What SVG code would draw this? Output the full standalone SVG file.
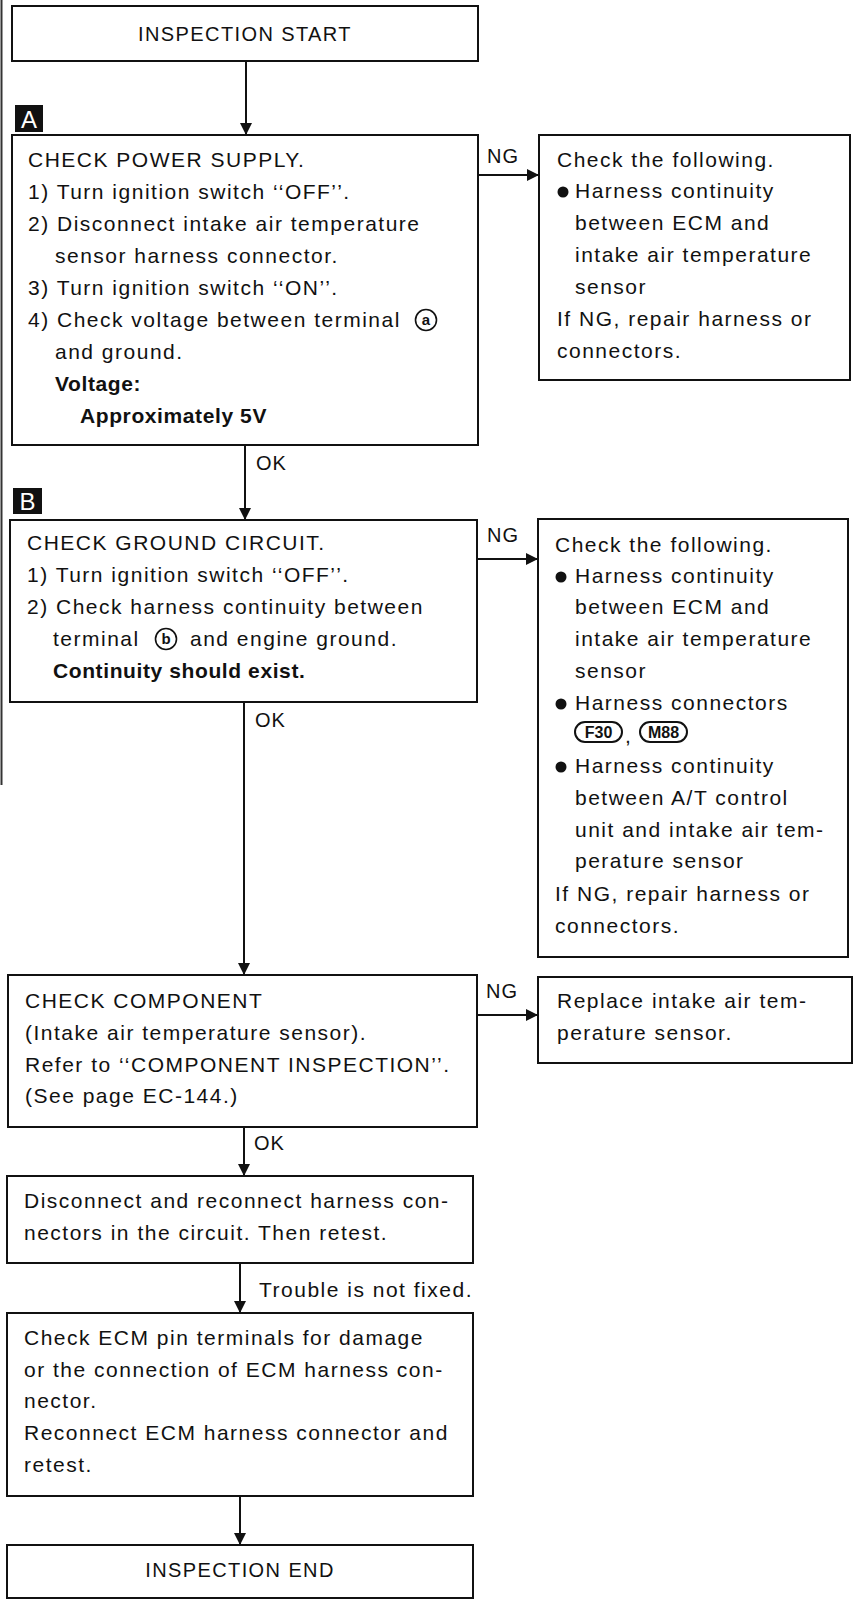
<svg xmlns="http://www.w3.org/2000/svg" width="855" height="1600" viewBox="0 0 855 1600">
<defs>
<style>
.box{fill:#fff;stroke:#111;stroke-width:2}
.t{font-family:"Liberation Sans",Arial,sans-serif;font-size:21px;letter-spacing:1.5px;fill:#111}
.b{font-family:"Liberation Sans",Arial,sans-serif;font-size:21px;font-weight:bold;letter-spacing:0.6px;fill:#111}
.h{font-family:"Liberation Sans",Arial,sans-serif;font-size:20px;letter-spacing:1.4px;fill:#111;text-anchor:middle}
.lbl{font-family:"Liberation Sans",Arial,sans-serif;font-size:20px;letter-spacing:1px;fill:#111}
.tag{font-family:"Liberation Sans",Arial,sans-serif;font-size:24px;fill:#fff;text-anchor:middle}
.pill{fill:#fff;stroke:#111;stroke-width:2}
.pt{font-family:"Liberation Sans Narrow","Liberation Sans",Arial,sans-serif;font-size:16px;font-weight:bold;fill:#111;text-anchor:middle}
.circ{fill:#fff;stroke:#111;stroke-width:1.6}
.ct{font-family:"Liberation Sans",Arial,sans-serif;font-size:15px;font-weight:bold;fill:#111;text-anchor:middle}
.ln{stroke:#111;stroke-width:2;fill:none}
</style>
<marker id="ah" viewBox="0 0 12 12" refX="12" refY="6" markerWidth="12" markerHeight="12" markerUnits="userSpaceOnUse" orient="auto">
<path d="M0,0 L12,6 L0,12 z" fill="#111"/>
</marker>
</defs>

<line x1="1.5" y1="0" x2="1.5" y2="785" stroke="#333" stroke-width="2"/>

<g id="connectors">
<line class="ln" x1="246" y1="61" x2="246" y2="135" marker-end="url(#ah)"/>
<line class="ln" x1="478" y1="175" x2="539" y2="175" marker-end="url(#ah)"/>
<line class="ln" x1="245" y1="445" x2="245" y2="520" marker-end="url(#ah)"/>
<line class="ln" x1="477" y1="559" x2="538" y2="559" marker-end="url(#ah)"/>
<line class="ln" x1="244" y1="702" x2="244" y2="975" marker-end="url(#ah)"/>
<line class="ln" x1="477" y1="1015" x2="538" y2="1015" marker-end="url(#ah)"/>
<line class="ln" x1="244" y1="1127" x2="244" y2="1176" marker-end="url(#ah)"/>
<line class="ln" x1="240" y1="1263" x2="240" y2="1313" marker-end="url(#ah)"/>
<line class="ln" x1="240" y1="1496" x2="240" y2="1545" marker-end="url(#ah)"/>
<text class="lbl" x="487" y="163">NG</text>
<text class="lbl" x="256" y="470">OK</text>
<text class="lbl" x="487" y="542">NG</text>
<text class="lbl" x="255" y="727">OK</text>
<text class="lbl" x="486" y="998">NG</text>
<text class="lbl" x="254" y="1150">OK</text>
<text class="t" x="259" y="1297">Trouble is not fixed.</text>
</g>

<g id="start">
<rect class="box" x="12" y="6" width="466" height="55"/>
<text class="h" x="245" y="41">INSPECTION START</text>
</g>

<g id="checkA">
<rect x="15" y="105" width="28" height="27" fill="#111"/>
<text class="tag" x="29" y="128">A</text>
<rect class="box" x="12" y="135" width="466" height="310"/>
<text class="t" x="28" y="167">CHECK POWER SUPPLY.</text>
<text class="t" x="28" y="199">1) Turn ignition switch ‘‘OFF’’.</text>
<text class="t" x="28" y="231">2) Disconnect intake air temperature</text>
<text class="t" x="55" y="263">sensor harness connector.</text>
<text class="t" x="28" y="295">3) Turn ignition switch ‘‘ON’’.</text>
<text class="t" x="28" y="327">4) Check voltage between terminal</text>
<circle class="circ" cx="426" cy="320" r="10.5"/>
<text class="ct" x="426" y="325">a</text>
<text class="t" x="55" y="359">and ground.</text>
<text class="b" x="55" y="391">Voltage:</text>
<text class="b" x="80" y="423">Approximately 5V</text>
</g>

<g id="ngA">
<rect class="box" x="539" y="135" width="311" height="245"/>
<text class="t" x="557" y="167">Check the following.</text>
<circle cx="563" cy="192" r="5.5" fill="#111"/>
<text class="t" x="575" y="198">Harness continuity</text>
<text class="t" x="575" y="230">between ECM and</text>
<text class="t" x="575" y="262">intake air temperature</text>
<text class="t" x="575" y="294">sensor</text>
<text class="t" x="557" y="326">If NG, repair harness or</text>
<text class="t" x="557" y="358">connectors.</text>
</g>

<g id="checkB">
<rect x="13" y="488" width="29" height="26" fill="#111"/>
<text class="tag" x="27.5" y="510">B</text>
<rect class="box" x="10" y="520" width="467" height="182"/>
<text class="t" x="27" y="550">CHECK GROUND CIRCUIT.</text>
<text class="t" x="27" y="582">1) Turn ignition switch ‘‘OFF’’.</text>
<text class="t" x="27" y="614">2) Check harness continuity between</text>
<text class="t" x="53" y="646">terminal</text>
<circle class="circ" cx="166" cy="639" r="10.5"/>
<text class="ct" x="166" y="644">b</text>
<text class="t" x="190" y="646">and engine ground.</text>
<text class="b" x="53" y="678">Continuity should exist.</text>
</g>

<g id="ngB">
<rect class="box" x="538" y="519" width="310" height="438"/>
<text class="t" x="555" y="552">Check the following.</text>
<circle cx="561" cy="577" r="5.5" fill="#111"/>
<text class="t" x="575" y="583">Harness continuity</text>
<text class="t" x="575" y="614">between ECM and</text>
<text class="t" x="575" y="646">intake air temperature</text>
<text class="t" x="575" y="678">sensor</text>
<circle cx="561" cy="704" r="5.5" fill="#111"/>
<text class="t" x="575" y="710">Harness connectors</text>
<rect class="pill" x="575" y="722" width="47" height="20" rx="10"/>
<text class="pt" x="598.5" y="738">F30</text>
<text class="t" x="625" y="743">,</text>
<rect class="pill" x="640" y="722" width="47" height="20" rx="10"/>
<text class="pt" x="663.5" y="738">M88</text>
<circle cx="561" cy="767" r="5.5" fill="#111"/>
<text class="t" x="575" y="773">Harness continuity</text>
<text class="t" x="575" y="805">between A/T control</text>
<text class="t" x="575" y="837">unit and intake air tem-</text>
<text class="t" x="575" y="868">perature sensor</text>
<text class="t" x="555" y="901">If NG, repair harness or</text>
<text class="t" x="555" y="933">connectors.</text>
</g>

<g id="checkC">
<rect class="box" x="8" y="975" width="469" height="152"/>
<text class="t" x="25" y="1008">CHECK COMPONENT</text>
<text class="t" x="25" y="1040">(Intake air temperature sensor).</text>
<text class="t" x="25" y="1072">Refer to ‘‘COMPONENT INSPECTION’’.</text>
<text class="t" x="25" y="1103">(See page EC-144.)</text>
</g>

<g id="ngC">
<rect class="box" x="538" y="977" width="314" height="86"/>
<text class="t" x="557" y="1008">Replace intake air tem-</text>
<text class="t" x="557" y="1040">perature sensor.</text>
</g>

<g id="reconnect">
<rect class="box" x="7" y="1176" width="466" height="87"/>
<text class="t" x="24" y="1208">Disconnect and reconnect harness con-</text>
<text class="t" x="24" y="1240">nectors in the circuit. Then retest.</text>
</g>

<g id="ecm">
<rect class="box" x="7" y="1313" width="466" height="183"/>
<text class="t" x="24" y="1345">Check ECM pin terminals for damage</text>
<text class="t" x="24" y="1377">or the connection of ECM harness con-</text>
<text class="t" x="24" y="1408">nector.</text>
<text class="t" x="24" y="1440">Reconnect ECM harness connector and</text>
<text class="t" x="24" y="1472">retest.</text>
</g>

<g id="end">
<rect class="box" x="7" y="1545" width="466" height="53"/>
<text class="h" x="240" y="1577">INSPECTION END</text>
</g>
</svg>
